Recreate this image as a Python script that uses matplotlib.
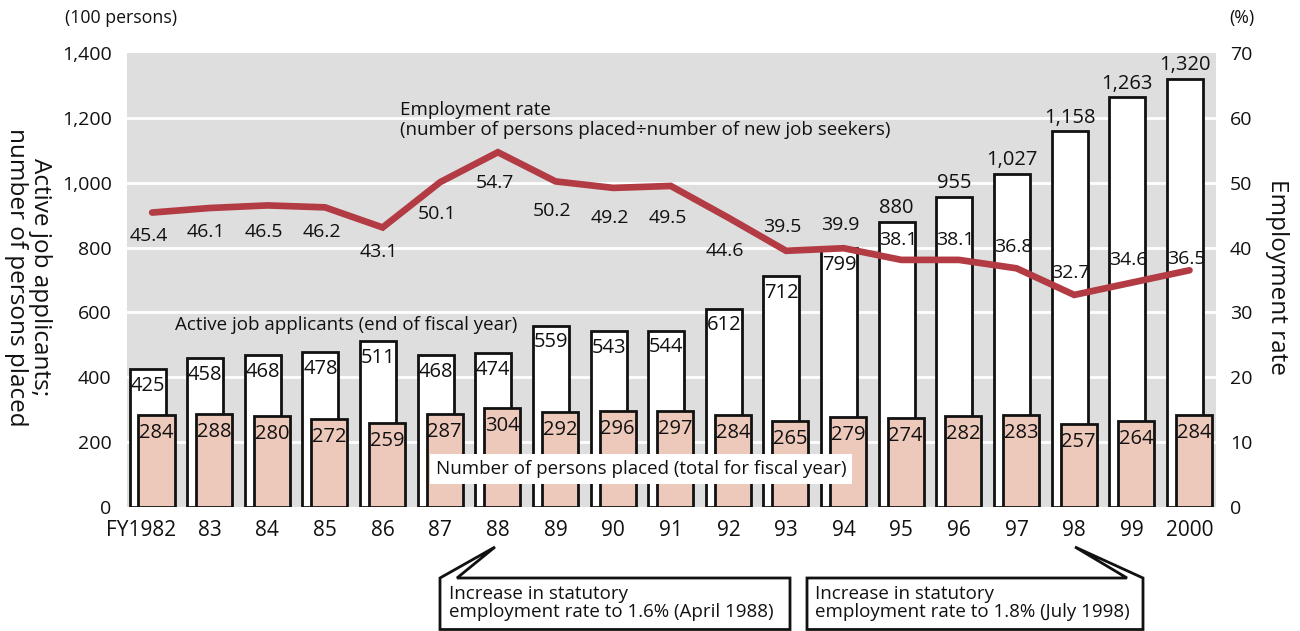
import matplotlib.pyplot as plt
from matplotlib.patches import Polygon
from matplotlib.ticker import FuncFormatter

plt.rcParams["font.family"] = ["Open Sans", "DejaVu Sans"]

years = ["FY1982", "83", "84", "85", "86", "87", "88", "89", "90", "91",
         "92", "93", "94", "95", "96", "97", "98", "99", "2000"]
applicants = [425, 458, 468, 478, 511, 468, 474, 559, 543, 544,
              612, 712, 799, 880, 955, 1027, 1158, 1263, 1320]
placed = [284, 288, 280, 272, 259, 287, 304, 292, 296, 297,
          284, 265, 279, 274, 282, 283, 257, 264, 284]
rate = [45.4, 46.1, 46.5, 46.2, 43.1, 50.1, 54.7, 50.2, 49.2, 49.5,
        44.6, 39.5, 39.9, 38.1, 38.1, 36.8, 32.7, 34.6, 36.5]

# vertical offset of each rate label from the line, in points (+ below, - above)
rate_label_dy = [17, 17, 19, 18, 18, 23, 22, 21, 22, 23,
                 24, -17, -17, -14, -14, -15, -16, -16, -8]

W, H = 1300, 631
BG = "#dedede"
PINK = "#edc9bc"
RED = "#b23b44"
INK = "#111111"


def fpx(x, y):
    """pixel position -> figure fraction"""
    return x / W, 1 - y / H


fig = plt.figure(figsize=(W / 100, H / 100), dpi=100, facecolor="white")
l, b = fpx(127, 507)
r, t = fpx(1216, 53)
ax = fig.add_axes([l, b, r - l, t - b])
ax.set_facecolor(BG)
for s in ax.spines.values():
    s.set_visible(False)

x = list(range(len(years)))
bw = 0.625
ax.set_xlim(-0.356, 18.54)
ax.set_ylim(0, 1400)
for gy in range(200, 1400, 200):
    ax.axhline(gy, color="white", lw=2, zorder=0)

ax.bar(x, applicants, width=bw, color="white", edgecolor=INK, lw=2, zorder=2)
ax.bar([i + 0.156 for i in x], placed, width=bw, color=PINK, edgecolor=INK,
       lw=2, zorder=3)

for i, v in enumerate(applicants):
    dy = 10 if v > 850 else -12
    ax.annotate(f"{v:,}", (i, v), xytext=(0, dy), textcoords="offset points",
                ha="center", va="center", fontsize=14.5, color=INK, zorder=5)
for i, v in enumerate(placed):
    ax.annotate(f"{v}", (i + 0.156, v), xytext=(0, -13), textcoords="offset points",
                ha="center", va="center", fontsize=14.5, color=INK, zorder=5)

ax.yaxis.set_major_formatter(FuncFormatter(lambda v, p: f"{v:,.0f}"))
ax.set_yticks(range(0, 1401, 200))
ax.tick_params(axis="y", length=0, pad=11, labelsize=14, colors=INK)
tick_x = [i + 0.08 for i in x]
ax.set_xticks(tick_x)
ax.set_xticklabels([""] + years[1:])
ax.tick_params(axis="x", length=0, pad=9, labelsize=15, colors=INK)
fig.text(*fpx(176, 531), years[0], ha="right", va="center", fontsize=15, color=INK)

ax2 = ax.twinx()
for s in ax2.spines.values():
    s.set_visible(False)
ax2.set_ylim(0, 70)
ax2.set_yticks(range(0, 71, 10))
ax2.tick_params(axis="y", length=0, pad=10, labelsize=14, colors=INK)
ax2.plot(tick_x, rate, color=RED, lw=4.8, solid_joinstyle="miter",
         solid_capstyle="round", zorder=4)
for i, v in enumerate(rate):
    ax2.annotate(f"{v}", (tick_x[i], v), xytext=(-2.5, -rate_label_dy[i]),
                 textcoords="offset points", ha="center", va="center",
                 fontsize=14, color=INK, zorder=6)

ax2.text(*fpx(400, 120), "Employment rate\n(number of persons placed÷number of new job seekers)",
         transform=fig.transFigure, ha="left", va="center", fontsize=13.5,
         linespacing=1.15, color=INK)
ax2.text(*fpx(175, 325), "Active job applicants (end of fiscal year)",
         transform=fig.transFigure, ha="left", va="center", fontsize=13.5, color=INK)
ax2.text(*fpx(436, 469), "Number of persons placed (total for fiscal year)",
         transform=fig.transFigure, ha="left", va="center", fontsize=13.5, color=INK,
         zorder=7, bbox=dict(boxstyle="square,pad=0.3", fc="white", ec="none"))

fig.text(*fpx(121, 18), "(100 persons)", ha="center", va="center", fontsize=12.8, color=INK)
fig.text(*fpx(1242, 18), "(%)", ha="center", va="center", fontsize=12.8, color=INK)
fig.text(*fpx(28, 277), "Active job applicants;\nnumber of persons placed",
         rotation=270, ha="center", va="center", multialignment="center",
         fontsize=17.5, linespacing=1.0, color=INK)
fig.text(*fpx(1277, 277), "Employment rate", rotation=270, ha="center",
         va="center", fontsize=17.5, color=INK)

# callout boxes for the statutory rate changes
callouts = [
    ([(440, 578), (495, 547), (457, 578), (790, 578), (790, 629.5), (440, 629.5)],
     (449, 603), "Increase in statutory\nemployment rate to 1.6% (April 1988)"),
    ([(807, 578), (1127, 578), (1075, 547), (1143, 578), (1143, 629.5), (807, 629.5)],
     (815, 603), "Increase in statutory\nemployment rate to 1.8% (July 1998)"),
]
for pts, (tx, ty), txt in callouts:
    fig.patches.append(Polygon([fpx(*p) for p in pts], closed=True, fc="white",
                               ec=INK, lw=2, joinstyle="miter",
                               transform=fig.transFigure, figure=fig))
    fig.text(*fpx(tx, ty), txt, ha="left", va="center", fontsize=13.5,
             linespacing=1.05, color=INK)

fig.savefig("out.png", dpi=100)
